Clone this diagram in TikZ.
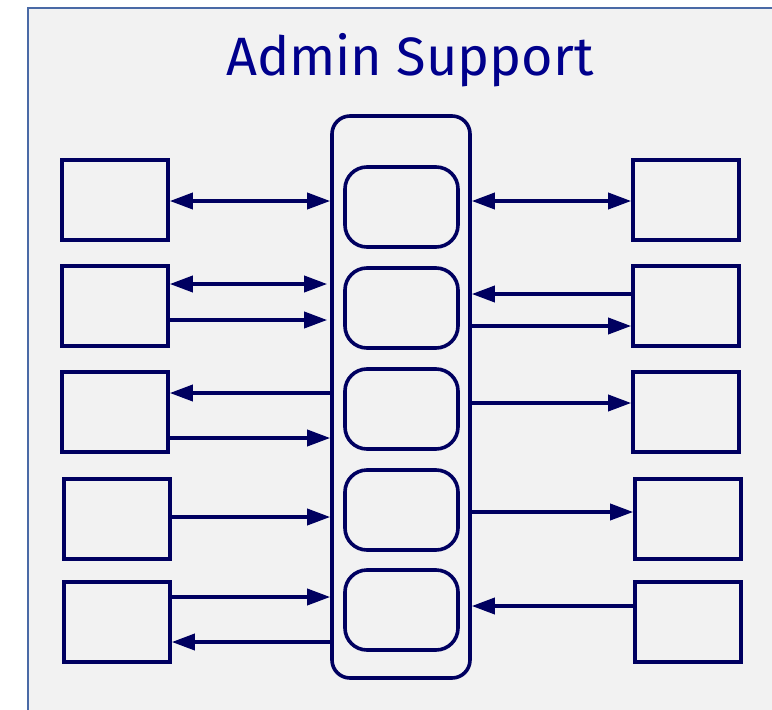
\documentclass[tikz,border=0pt]{standalone}
\usepackage{fontspec}
\setmainfont{Fira Sans}
\usetikzlibrary{arrows.meta}
\definecolor{ink}{HTML}{000060}
\definecolor{titleblue}{HTML}{00008C}
\definecolor{frameblue}{HTML}{4A6AA6}
\definecolor{bg}{HTML}{F2F2F2}
\tikzset{
  box/.style={draw=ink, line width=3.6pt, minimum width=106pt, minimum height=80pt, inner sep=0pt},
  inbox/.style={draw=ink, line width=3.6pt, rounded corners=22pt, minimum width=113pt, minimum height=80pt, inner sep=0pt},
  cont/.style={draw=ink, line width=3.6pt, rounded corners=18pt, minimum width=138pt, minimum height=562pt, inner sep=0pt},
  arr/.style={draw=ink, line width=3.6pt, -{Triangle[length=23pt,width=16pt]}},
  darr/.style={draw=ink, line width=3.6pt, {Triangle[length=23pt,width=16pt]}-{Triangle[length=23pt,width=16pt]}},
}
\begin{document}
\begin{tikzpicture}[x=1pt,y=-1pt]
\useasboundingbox (0,0) rectangle (772,710);
\fill[white] (0,0) rectangle (772,710);
\begin{scope}
\clip (0,0) rectangle (772,710);
\draw[frameblue, fill=bg, line width=1.8pt] (28,8) rectangle (790,730);
\end{scope}
\node[text=titleblue, font=\fontsize{54}{60}\selectfont, anchor=center] (T) at (410,60) {Admin Support};
% container and inner boxes
\node[cont] (C) at (401,397) {};
\node[inbox] (I1) at (401.5,207) {};
\node[inbox] (I2) at (401.5,308) {};
\node[inbox] (I3) at (401.5,409) {};
\node[inbox] (I4) at (401.5,510) {};
\node[inbox] (I5) at (401.5,610) {};
% left boxes
\node[box] (L1) at (115,200) {};
\node[box] (L2) at (115,306) {};
\node[box] (L3) at (115,412) {};
\node[box] (L4) at (117,519) {};
\node[box] (L5) at (117,622) {};
% right boxes
\node[box] (R1) at (686,200) {};
\node[box] (R2) at (686,306) {};
\node[box] (R3) at (686,412) {};
\node[box] (R4) at (688,519) {};
\node[box] (R5) at (688,622) {};
% y levels
\coordinate (a1) at (0,201);
\coordinate (a2) at (0,284);
\coordinate (a3) at (0,320);
\coordinate (a4) at (0,393);
\coordinate (a5) at (0,438);
\coordinate (a6) at (0,517);
\coordinate (a7) at (0,597);
\coordinate (a8) at (0,642);
\coordinate (b2) at (0,294);
\coordinate (b3) at (0,326);
\coordinate (b4) at (0,403);
\coordinate (b5) at (0,512);
\coordinate (b6) at (0,606);
% left arrows
\draw[darr] (L1.east |- a1) -- (C.west |- a1);
\draw[darr] (L2.east |- a2) -- ([xshift=-3pt]C.west |- a2);
\draw[arr] (L2.east |- a3) -- ([xshift=-3pt]C.west |- a3);
\draw[arr] (C.west |- a4) -- (L3.east |- a4);
\draw[arr] (L3.east |- a5) -- (C.west |- a5);
\draw[arr] (L4.east |- a6) -- (C.west |- a6);
\draw[arr] (L5.east |- a7) -- (C.west |- a7);
\draw[arr] (C.west |- a8) -- (L5.east |- a8);
% right arrows
\draw[darr] (C.east |- a1) -- (R1.west |- a1);
\draw[arr] (R2.west |- b2) -- (C.east |- b2);
\draw[arr] (C.east |- b3) -- (R2.west |- b3);
\draw[arr] (C.east |- b4) -- (R3.west |- b4);
\draw[arr] (C.east |- b5) -- (R4.west |- b5);
\draw[arr] (R5.west |- b6) -- (C.east |- b6);
\end{tikzpicture}
\end{document}
